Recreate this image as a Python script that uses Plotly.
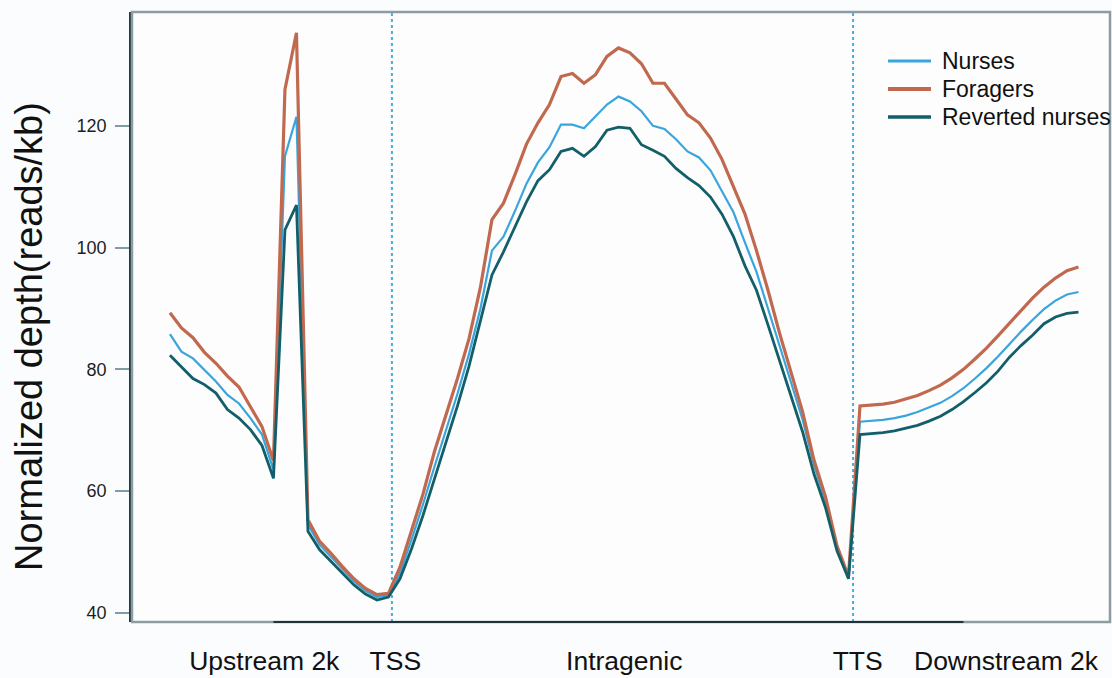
import plotly.graph_objects as go

# bin index along the metagene profile (20 upstream, 40 gene body, 20 downstream)
bins = list(range(80))

nurses = [85.8, 82.9, 81.8, 79.9, 78.0, 75.8, 74.4, 72.0, 69.3, 63.5,
          115.0, 121.5, 54.5, 51.2, 49.2, 47.1, 45.2, 43.6, 42.6, 42.9,
          46.5, 52.0, 57.8, 64.0, 70.0, 76.0, 82.5, 90.0, 99.5, 101.8,
          106.0, 110.5, 114.0, 116.5, 120.2, 120.2, 119.6, 121.6, 123.5, 124.8,
          124.0, 122.4, 120.0, 119.5, 117.8, 115.8, 114.8, 112.7, 109.3, 105.8,
          100.8, 96.0, 90.0, 84.0, 78.0, 71.8, 64.3, 58.3, 50.6, 45.8,
          71.4, 71.5, 71.7, 72.0, 72.4, 73.0, 73.7, 74.5, 75.6, 76.9,
          78.5, 80.2, 82.1, 84.2, 86.2, 88.1, 89.9, 91.3, 92.3, 92.7]

foragers = [89.3, 86.8, 85.2, 82.8, 81.0, 78.9, 77.1, 73.9, 70.6, 65.0,
            126.0, 135.3, 55.3, 51.8, 49.8, 47.6, 45.6, 44.0, 43.0, 43.2,
            47.5, 53.5, 59.5, 66.5, 72.5, 78.5, 85.0, 93.5, 104.6, 107.3,
            112.0, 117.0, 120.5, 123.5, 128.1, 128.6, 127.0, 128.4, 131.4, 132.8,
            132.0, 130.2, 127.0, 127.0, 124.4, 121.8, 120.5, 118.0, 114.5, 110.0,
            105.5, 99.5, 93.0, 86.0, 79.6, 73.1, 65.1, 59.1, 51.0, 46.0,
            74.0, 74.1, 74.3, 74.6, 75.1, 75.7, 76.5, 77.4, 78.6, 80.0,
            81.7, 83.5, 85.5, 87.6, 89.7, 91.7, 93.5, 95.0, 96.2, 96.8]

reverted = [82.3, 80.4, 78.5, 77.5, 76.1, 73.4, 72.0, 70.1, 67.5, 62.1,
            102.9, 107.0, 53.4, 50.4, 48.5, 46.5, 44.6, 43.1, 42.1, 42.6,
            45.6, 50.5, 56.0, 62.0, 68.0, 74.0, 80.5, 88.0, 95.5, 99.3,
            103.5, 107.5, 111.0, 112.8, 115.8, 116.3, 115.0, 116.6, 119.3, 119.8,
            119.6, 116.9, 116.0, 115.0, 113.0, 111.5, 110.2, 108.3, 105.5, 101.8,
            97.0, 93.0, 87.3, 81.5, 75.8, 69.8, 62.8, 57.3, 50.2, 45.6,
            69.3, 69.4, 69.6, 69.9, 70.3, 70.8, 71.5, 72.3, 73.4, 74.7,
            76.2, 77.8, 79.7, 82.0, 83.9, 85.6, 87.5, 88.6, 89.2, 89.4]

series_names = ["Nurses", "Foragers", "Reverted nurses"]
series_colors = ["#3aa5dc", "#c0694f", "#125f69"]
series_widths = [2.2, 3.2, 2.8]

region_label_pos = [8.2, 19.6, 39.5, 59.8, 72.7]
region_labels = ["Upstream 2k", "TSS", "Intragenic", "TTS", "Downstream 2k"]
boundaries = [19.3, 59.4]
y_ticks = [40, 60, 80, 100, 120]

FONT = "Liberation Sans, Arial, sans-serif"

# plot-area geometry in pixels (used for the hand-placed legend and y title)
L, R, T, B = 132, 2, 12, 56
PW, PH = 1112 - L - R, 678 - T - B


def px_x(p):
    return (p - L) / PW


def px_y(p):
    return 1 - (p - T) / PH


fig = go.Figure()
for name, ys, col, w in zip(series_names, [nurses, foragers, reverted], series_colors, series_widths):
    fig.add_trace(go.Scatter(x=bins, y=ys, mode="lines", name=name,
                             line=dict(color=col, width=w), showlegend=False))

for b in boundaries:
    fig.add_shape(type="line", xref="x", yref="paper", x0=b, x1=b, y0=0, y1=1,
                  line=dict(color="#3fb0e0", width=2, dash="3px,3px"), layer="below")

# box frame
fig.add_shape(type="rect", xref="paper", yref="paper", x0=0, x1=1, y0=0, y1=1,
              line=dict(color="#8d9ca2", width=2.5))
# darker x-axis segment
fig.add_shape(type="line", xref="x", yref="paper", x0=9, x1=69, y0=0, y1=0,
              line=dict(color="#1f3338", width=2))

# legend (drawn by hand to match sample length and spacing)
legend_rows_px = [61, 89, 117]
for name, col, w, yp in zip(series_names, series_colors, series_widths, legend_rows_px):
    fig.add_shape(type="line", xref="paper", yref="paper",
                  x0=px_x(888), x1=px_x(931), y0=px_y(yp), y1=px_y(yp),
                  line=dict(color=col, width=w + 0.6))
    fig.add_annotation(xref="paper", yref="paper", x=px_x(940), y=px_y(yp),
                       xanchor="left", yanchor="middle", text=name, showarrow=False,
                       font=dict(size=23, family=FONT, color="#111"))

fig.add_annotation(xref="paper", yref="paper", x=px_x(29), y=px_y(337),
                   xanchor="center", yanchor="middle", textangle=-90,
                   text="Normalized depth(reads/kb)", showarrow=False,
                   font=dict(size=38, family=FONT, color="#111"))

fig.update_layout(
    width=1112, height=678,
    margin=dict(l=L, r=R, t=T, b=B),
    paper_bgcolor="#fbfcfd", plot_bgcolor="#fdfdfe",
    font=dict(family=FONT, color="#111"),
    showlegend=False,
    xaxis=dict(range=[-3.3, 81.74], showgrid=False, zeroline=False, showline=False,
               tickmode="array", tickvals=region_label_pos, ticktext=region_labels,
               ticks="", tickfont=dict(size=26.5, family=FONT, color="#111"),
               ticklabelstandoff=20),
    yaxis=dict(range=[38.5, 138.7], showgrid=False, zeroline=False,
               showline=True, linecolor="#203a40", linewidth=2.5,
               tickmode="array", tickvals=y_ticks, ticks="outside", ticklen=14,
               tickwidth=2, tickcolor="#7f9cab",
               tickfont=dict(size=18, family=FONT, color="#1e1e1e"),
               ticklabelstandoff=5),
)

fig.write_html("out.html")
